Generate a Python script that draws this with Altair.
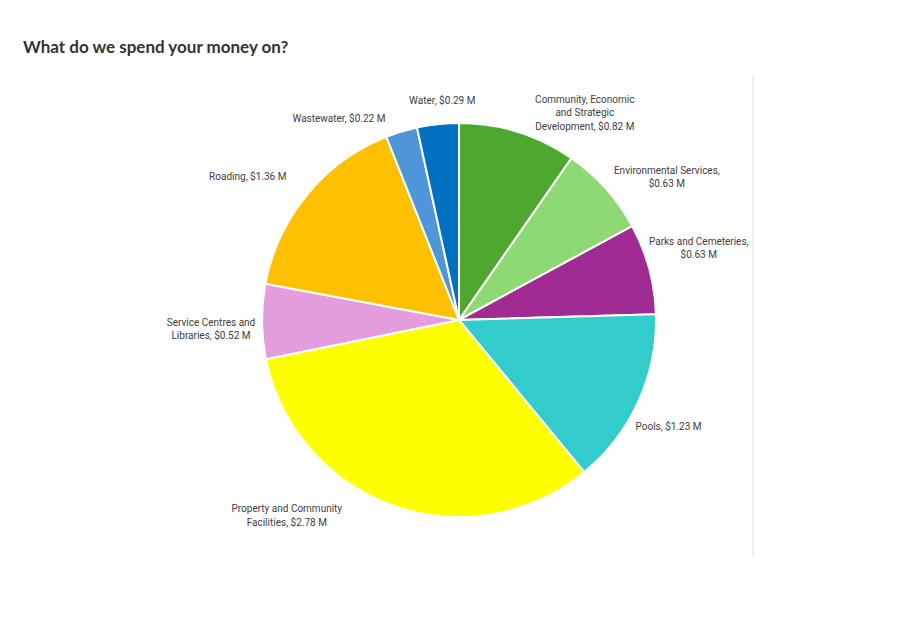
import altair as alt
import pandas as pd

categories = [
    "Community, Economic and Strategic Development",
    "Environmental Services",
    "Parks and Cemeteries",
    "Pools",
    "Property and Community Facilities",
    "Service Centres and Libraries",
    "Roading",
    "Wastewater",
    "Water",
]
values = [0.82, 0.63, 0.63, 1.23, 2.78, 0.52, 1.36, 0.22, 0.29]
# how each label is broken onto lines (name part, separator before value)
label_names = [
    "Community, Economic\nand Strategic\nDevelopment,",
    "Environmental Services,",
    "Parks and Cemeteries,",
    "Pools,",
    "Property and Community\nFacilities,",
    "Service Centres and\nLibraries,",
    "Roading,",
    "Wastewater,",
    "Water,",
]
label_seps = [" ", "\n", "\n", " ", " ", " ", " ", " ", " "]
colors = ["#4EA72E", "#8ED973", "#A02B93", "#33CCCC", "#FFFF00",
          "#E49EDD", "#FFC000", "#4E95D9", "#0070C0"]
title_text = "What do we spend your money on?"

labels = [n + s + f"${v:.2f} M" for n, s, v in zip(label_names, label_seps, values)]
df = pd.DataFrame({"category": categories, "value": values,
                   "label": labels, "idx": list(range(len(categories)))})

CX, CY, R = 459, 320, 197
# label nudges (pixels) relative to mid-angle position at radius 240
nudges = [(54, 9), (29, 11), (8, -16), (-9, 8), (-92, -37),
          (-8, 1), (-26, 10), (-50, 29), (9, 20)]

base = alt.Chart(df)
color_scale = alt.Scale(domain=categories, range=colors)

pie = base.mark_arc(outerRadius=R, stroke="white", strokeWidth=2).encode(
    theta=alt.Theta("value:Q", stack=True),
    order=alt.Order("idx:Q"),
    color=alt.Color("category:N", scale=color_scale, legend=None),
    x=alt.value(CX), y=alt.value(CY),
)

layers = [pie]
for cat, (ddx, ddy) in zip(categories, nudges):
    t = (base.transform_window(cum="sum(value)", sort=[alt.SortField("idx")])
         .transform_calculate(mid="datum.cum - datum.value / 2")
         .transform_filter(alt.datum.category == cat)
         .mark_text(radius=240, dx=ddx, dy=ddy, align="center", baseline="middle",
                    lineBreak="\n", font="Roboto", fontSize=10, color="#404040",
                    lineHeight=13.5)
         .encode(theta=alt.Theta("mid:Q"), text="label:N",
                 x=alt.value(CX), y=alt.value(CY)))
    layers.append(t)

title = alt.Chart(pd.DataFrame({"t": [title_text]})).mark_text(
    align="left", baseline="middle", font="Lato", fontSize=17, fontWeight="bold",
    color="#333333").encode(text="t:N", x=alt.value(23), y=alt.value(48))

vline = alt.Chart(pd.DataFrame({"a": [0]})).mark_rule(color="#e3e3e3", strokeWidth=1).encode(
    x=alt.value(753), y=alt.value(75), y2=alt.value(557))

chart = alt.layer(*layers, title, vline).properties(
    width=907, height=626, padding=0, autosize=alt.AutoSizeParams(type="none")
).configure_view(stroke=None)

chart.save("out.html", embed_options={"renderer": "svg", "actions": False})
